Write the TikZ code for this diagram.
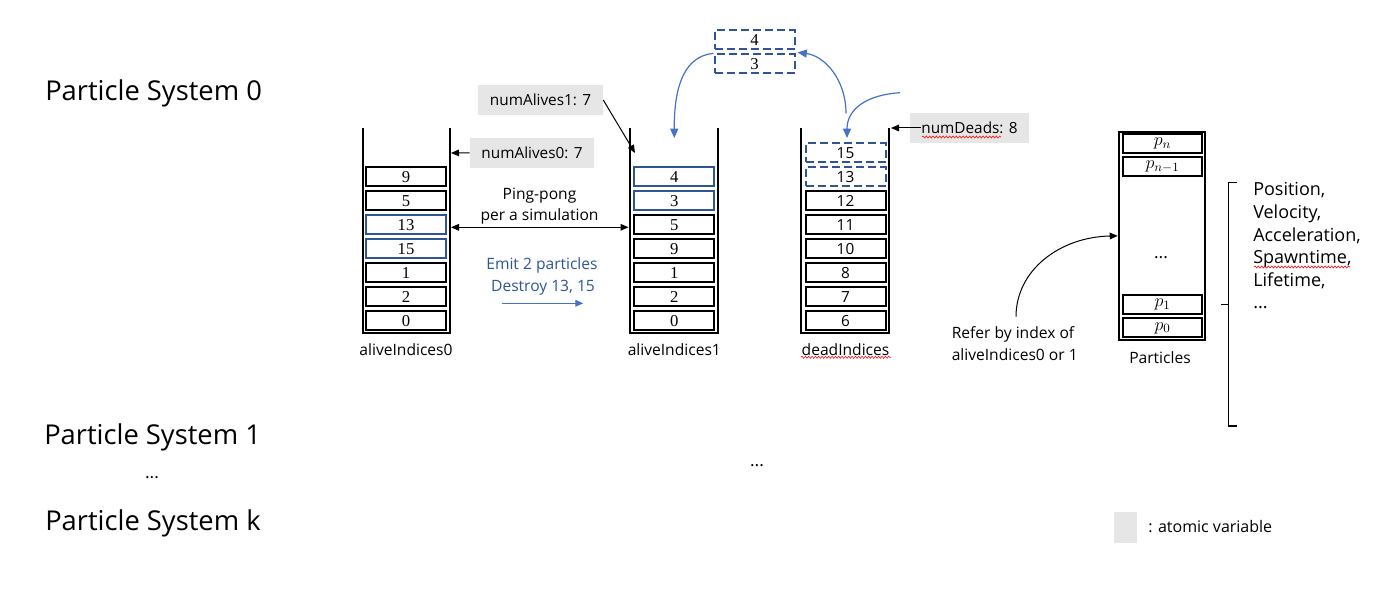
\RequirePackage{fix-cm}
\documentclass[tikz,border=0pt]{standalone}
\usepackage{fontspec}
\setmainfont{Open Sans}
\newfontfamily\cellserif{Liberation Serif}
\usetikzlibrary{arrows.meta,decorations.pathmorphing,calc}
\definecolor{cellblue}{RGB}{47,85,151}
\definecolor{curveblue}{RGB}{68,114,196}
\definecolor{atomgray}{RGB}{231,230,230}
\definecolor{textblue}{RGB}{47,85,151}
\begin{document}
\begin{tikzpicture}[x=0.75pt,y=-0.75pt,
  cell/.style={draw, line width=1.5pt, minimum width=60pt, minimum height=14pt, inner sep=0pt, font=\cellserif\fontsize{12.5}{14}\selectfont},
  bcell/.style={cell, draw=cellblue},
  scell/.style={cell, font=\fontsize{11.5}{13}\selectfont},
  dcell/.style={scell, draw=cellblue, dash pattern=on 6pt off 3pt},
  pcell/.style={draw, line width=1.5pt, minimum width=59.7pt, minimum height=14.25pt, inner sep=0pt, font=\fontsize{13.5}{15}\selectfont},
  wall/.style={line width=1.5pt},
  atom/.style={fill=atomgray, inner sep=0pt, minimum height=22.5pt, font=\fontsize{11.5}{14}\selectfont},
  lbl/.style={inner sep=0pt, font=\fontsize{11.7}{14}\selectfont},
  blbl/.style={lbl, text=textblue},
  big/.style={inner sep=0pt, anchor=base west, font=\fontsize{20.5}{24}\selectfont},
  lst/.style={inner sep=0pt, anchor=base west, font=\fontsize{13.5}{16}\selectfont},
  karrow/.style={line width=0.75pt, -{Triangle[length=6pt,width=5pt]}},
  barrow/.style={draw=curveblue, line width=0.9pt, -{Triangle[length=7pt,width=6pt]}},
  squig/.style={red, line width=0.4pt, decorate, decoration={snake, amplitude=0.8pt, segment length=2.5pt}}
]
\useasboundingbox (0,0) rectangle (1385,591);
\fill[white] (0,0) rectangle (1385,591);

% Particle system labels
\node[big] (ps0) at (45,100.7) {Particle System 0};
\node[big] (ps1) at (44,445) {Particle System 1};
\node[lbl, font=\fontsize{13}{15}\selectfont] (psdots) at (152,478) {...};
\node[big] (psk) at (45,530.7) {Particle System k};

% containers
\draw[wall] (362.5,128) -- (362.5,333.5) -- (449.5,333.5) -- (449.5,128);
\draw[wall] (630,128) -- (630,333.5) -- (718,333.5) -- (718,128);
\draw[wall] (801,128) -- (801,333) -- (889,333) -- (889,128);

% aliveIndices0
\node[cell]  (a0c1) at (406,176.7) {9};
\node[cell]  (a0c2) at (406,200.7) {5};
\node[bcell] (a0c3) at (406,224.7) {13};
\node[bcell] (a0c4) at (406,248.7) {15};
\node[cell]  (a0c5) at (406,272.7) {1};
\node[cell]  (a0c6) at (406,296.7) {2};
\node[cell]  (a0c7) at (406,320.7) {0};
\node[lbl] (a0lbl) at (406,350) {aliveIndices0};

% aliveIndices1
\node[bcell] (a1c1) at (674.3,176.7) {4};
\node[bcell] (a1c2) at (674.3,200.7) {3};
\node[cell]  (a1c3) at (674.3,224.7) {5};
\node[cell]  (a1c4) at (674.3,248.7) {9};
\node[cell]  (a1c5) at (674.3,272.7) {1};
\node[cell]  (a1c6) at (674.3,296.7) {2};
\node[cell]  (a1c7) at (674.3,320.7) {0};
\node[lbl] (a1lbl) at (674.3,350) {aliveIndices1};

% deadIndices
\node[dcell] (dc1) at (845.5,152.7) {15};
\node[dcell] (dc2) at (845.5,176.7) {13};
\node[scell] (dc3) at (845.5,200.7) {12};
\node[scell] (dc4) at (845.5,224.7) {11};
\node[scell] (dc5) at (845.5,248.7) {10};
\node[scell] (dc6) at (845.5,272.7) {8};
\node[scell] (dc7) at (845.5,296.7) {7};
\node[scell] (dc8) at (845.5,320.7) {6};
\node[lbl] (dlbl) at (845.5,349.3) {deadIndices};
\draw[squig] (801,357.3) -- (891,357.3);

% top dashed boxes
\node[dcell, font=\cellserif\fontsize{12.5}{14}\selectfont] (t4) at (754.5,39.7) {4};
\node[dcell, font=\cellserif\fontsize{12.5}{14}\selectfont] (t3) at (754.5,63.7) {3};

% atomic labels
\node[atom, minimum width=93pt] (na0) at (532,152.8) {numAlives0: 7};
\node[atom, minimum width=93.75pt] (na1) at (540.5,100) {numAlives1: 7};
\node[atom, minimum width=89.25pt] (nd) at (969.5,128) {numDeads: 8};
\draw[squig] (922,137) -- (1001,137);

\coordinate (a0top) at (451,153);
\coordinate (a1in) at (635,153);
\coordinate (dtop) at (891,128);
\draw[karrow] (na0.west) -- (a0top);
\draw[karrow] (na1.east) -- (a1in);
\draw[karrow] ($(nd.west)+(11,0)$) -- (dtop);

% ping-pong
\node[lbl] (pp1t) at (539.5,196) {Ping-pong};
\node[lbl] (pp2t) at (539.5,216) {per a simulation};
\coordinate (pp0) at (451,227.3);
\coordinate (pp1) at (628.5,227.3);
\draw[line width=0.75pt, {Triangle[length=6pt,width=5pt]}-{Triangle[length=6pt,width=5pt]}] (pp0) -- (pp1);

% emit / destroy
\node[blbl] (emit) at (542,265.7) {Emit 2 particles};
\node[blbl] (destroy) at (543,287.3) {Destroy 13, 15};
\coordinate (em0) at (501.7,303.3);
\coordinate (em1) at (583.3,303.3);
\draw[draw=curveblue, line width=0.9pt, -{Triangle[length=6pt,width=5pt]}] (em0) -- (em1);

% blue curves
\coordinate (a1drop) at (674.3,138);
\coordinate (dsrc1) at (846,113.3);
\coordinate (dsrc2) at (900,92.7);
\coordinate (ddrop) at (847,138);
\draw[barrow] (t3.north west) .. controls (685,56) and (674,85) .. (a1drop);
\draw[barrow] (dsrc1) .. controls (846,80) and (825,56) .. ($(t3.north east)+(2,-1)$);
\draw[barrow] (dsrc2) .. controls (865,95) and (847,110) .. (ddrop);

% middle dots
\node[lbl, font=\fontsize{13}{15}\selectfont] (middots) at (757,466) {...};

% particles
\node[draw, line width=1.5pt, minimum width=64.7pt, minimum height=155.8pt, inner sep=0pt] (parts) at (1161.85,235.85) {};
\node[pcell] (pn) at (1162.5,143.8) {$p_n$};
\node[pcell] (pn1) at (1162.5,167) {$p_{n-1}$};
\node[lbl, font=\fontsize{13}{15}\selectfont] (pdots) at (1161,258) {...};
\node[pcell] (p1) at (1162.5,304.7) {$p_1$};
\node[pcell] (p0) at (1162.5,328) {$p_0$};
\node[lbl] (plbl) at (1160,357.3) {Particles};

% refer
\node[lbl] (rf1) at (1013,334.3) {Refer by index of};
\node[lbl] (rf2) at (1014.7,355) {aliveIndices0 or 1};
\coordinate (refsrc) at (1016,316.7);
\draw[karrow] (refsrc) .. controls (1016,270) and (1060,237) .. (parts.west);

% brace
\draw[line width=0.8pt] (1237.3,182.3) -- (1228.3,182.3) -- (1228.3,426) -- (1237.3,426);
\draw[line width=0.8pt] (1228.3,304.3) -- (1220.7,304.3);

% attribute list
\node[lst] (l1) at (1253,195.7) {Position,};
\node[lst] (l2) at (1253,218.4) {Velocity,};
\node[lst] (l3) at (1253,241.1) {Acceleration,};
\node[lst] (l4) at (1253,263.8) {Spawntime,};
\node[lst] (l5) at (1253,286.5) {Lifetime,};
\node[lst] (l6) at (1253,308.3) {...};
\draw[squig] (1254,267) -- (1350,267);

% legend
\node[fill=atomgray, minimum width=17pt, minimum height=23pt, inner sep=0pt] (leg) at (1125.3,527.2) {};
\node[lbl, anchor=west, font=\fontsize{12}{14}\selectfont] (legt) at (1148,527) {: atomic variable};
\end{tikzpicture}
\end{document}
